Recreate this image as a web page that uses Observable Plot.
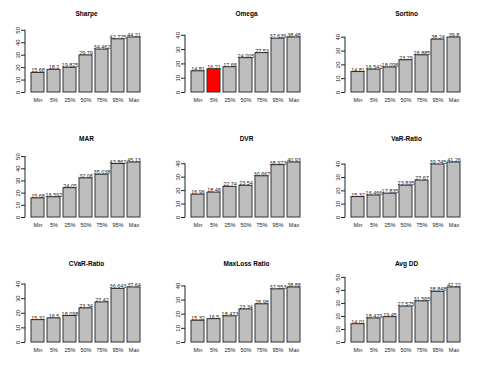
<!DOCTYPE html>
<html>
<head>
<meta charset="utf-8">
<script src="https://cdn.jsdelivr.net/npm/d3@7"></script>
<script src="https://cdn.jsdelivr.net/npm/@observablehq/plot@0.6"></script>
<style>
  html, body { margin: 0; padding: 0; background: #fff; }
  #grid { display: grid; grid-template-columns: 160px 160px 160px; width: 480px; }
  #grid svg { display: block; }
</style>
</head>
<body>
<div id="grid"></div>
<script>
// Categories (x tick labels)
const quantiles = ["Min", "5%", "25%", "50%", "75%", "95%", "Max"];

// Panel titles
const titles = ["Sharpe", "Omega", "Sortino", "MAR", "DVR", "VaR-Ratio", "CVaR-Ratio", "MaxLoss Ratio", "Avg DD"];

// Series values, one array per panel
const sharpe   = [15.68, 18.2, 19.825, 29.79, 34.462, 42.725, 44.21];
const omega    = [14.81, 16.21, 17.68, 24.005, 27.53, 37.639, 38.48];
const sortino  = [14.81, 16.541, 18.098, 23.29, 26.885, 38.24, 39.8];
const mar      = [15.68, 16.592, 24.05, 32.08, 35.038, 43.862, 45.13];
const dvr      = [16.96, 18.48, 22.74, 23.54, 30.667, 38.923, 40.93];
const varRatio = [15.32, 16.466, 17.835, 23.835, 27.67, 39.745, 41.26];
const cvarRatio= [15.32, 16.5, 18.098, 23.34, 27.42, 36.643, 37.64];
const maxLoss  = [15.32, 16.5, 18.473, 23.34, 26.98, 37.553, 38.88];
const avgDD    = [14.01, 18.429, 19.45, 27.575, 31.565, 38.848, 42.22];

const series = [sharpe, omega, sortino, mar, dvr, varRatio, cvarRatio, maxLoss, avgDD];

// Highlighted bar: [panel title, category]
const highlight = ["Omega", "5%"];

const FONT = "'Liberation Sans', Arial, Helvetica, sans-serif";
const rowHeights = [125, 125, 126];
const grid = document.getElementById("grid");

titles.forEach((title, k) => {
  const values = series[k];
  const data = quantiles.map((q, i) => ({ q, v: values[i], label: String(values[i]) }));
  const ymax = d3.max(values) * 1.2;
  const ticks = d3.ticks(0, ymax, 5).filter(t => t <= ymax);
  const height = rowHeights[Math.floor(k / 3)];

  const svg = Plot.plot({
    width: 160,
    height,
    marginTop: 26,
    marginBottom: height - 92,
    marginLeft: 25,
    marginRight: 13,
    style: { fontFamily: FONT, fontSize: "5.5px", background: "#fff", color: "#222" },
    x: { domain: quantiles, paddingInner: 0.16, paddingOuter: 0.307, axis: null },
    y: { domain: [0, ymax], axis: null },
    color: { type: "identity" },
    marks: [
      Plot.axisY({ ticks, label: null, tickSize: 4, tickPadding: 2, tickRotate: -90, fontSize: 6, stroke: "#222", fill: "#222" }),
      Plot.axisX({ label: null, tickSize: 0, tickPadding: 6, fontSize: 5.5, fill: "#222" }),
      Plot.barY(data, {
        x: "q", y: "v",
        fill: d => (title === highlight[0] && d.q === highlight[1]) ? "#ff0000" : "#bebebe",
        stroke: "#333", strokeWidth: 1
      }),
      Plot.text(data, { x: "q", y: "v", text: "label", lineAnchor: "bottom", dy: -0.5, fontSize: 5.5, fill: "#222" }),
      Plot.text([title], { frameAnchor: "top", dy: -13, lineAnchor: "middle", fontSize: 6.5, fontWeight: "bold", fill: "#000" })
    ]
  });

  // y-axis line spanning from 0 to the top tick, as in the reference
  const ys = svg.scale("y");
  d3.select(svg).append("line")
    .attr("x1", 25).attr("x2", 25)
    .attr("y1", ys.apply(0)).attr("y2", ys.apply(ticks[ticks.length - 1]))
    .attr("stroke", "#222").attr("stroke-width", 1);

  grid.appendChild(svg);
});
</script>
</body>
</html>
